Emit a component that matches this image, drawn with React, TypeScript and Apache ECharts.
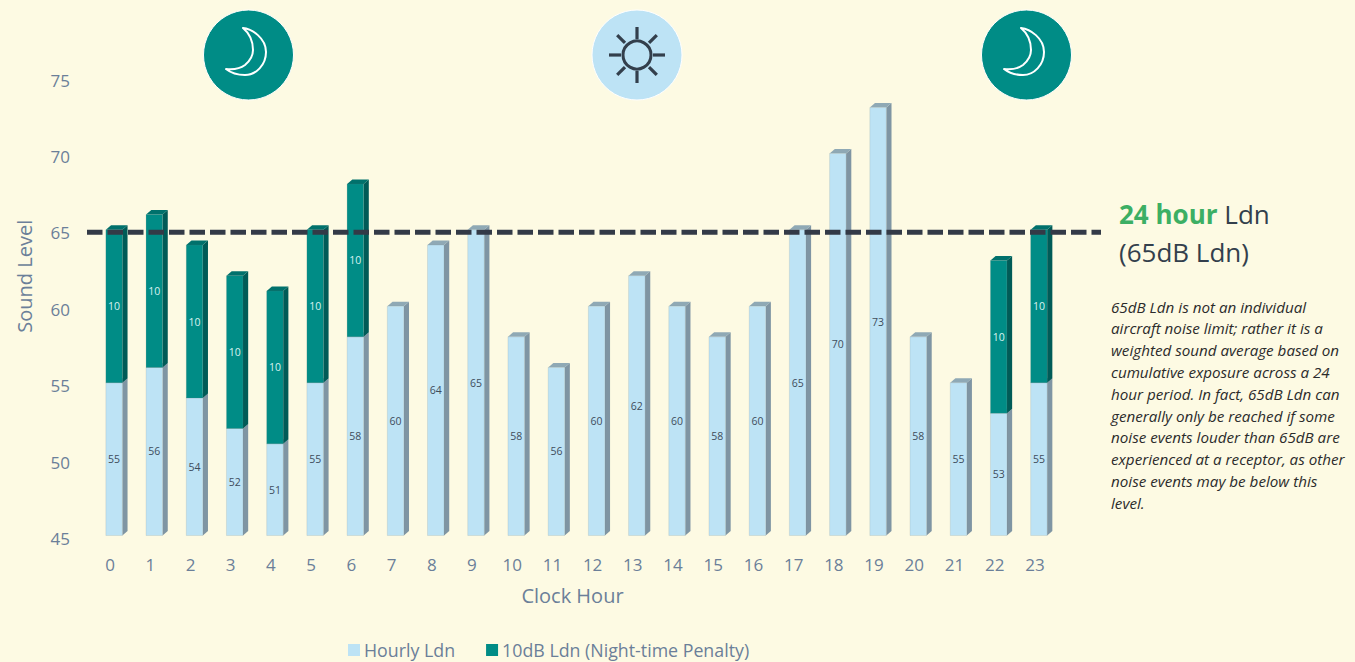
import React, { useEffect, useRef } from "react";
import * as echarts from "echarts";

const hours = ["0","1","2","3","4","5","6","7","8","9","10","11","12","13","14","15","16","17","18","19","20","21","22","23"];
const hourlyLdn = [55,56,54,52,51,55,58,60,64,65,58,56,60,62,60,58,60,65,70,73,58,55,53,55];
const penalty = [10,10,10,10,10,10,10,0,0,0,0,0,0,0,0,0,0,0,0,0,0,0,10,10];
const limitValue = [65];
const noteLines = [
  "65dB Ldn is not an individual",
  "aircraft noise limit; rather it is a",
  "weighted sound average based on",
  "cumulative exposure across a 24",
  "hour period. In fact, 65dB Ldn can",
  "generally only be reached if some",
  "noise events louder than 65dB are",
  "experienced at a receptor, as other",
  "noise events may be below this",
  "level.",
];

const FONT = '"Open Sans", sans-serif';
const BG = "#FDFAE3";

const MOON = "M243 28 C252 29 266 38 266 52 C266 65 256 75 245 75 C238 75 231 73 226 69 C235 70 241 68 245 65 C251 60 253 55 253 50 C253 41 249 33 243 28 Z";
echarts.graphic.registerShape("moon", echarts.graphic.extendPath(MOON, {}) as any);

function bar3d(front: string, side: string, top: string, labelColor: string) {
  return (params: any, api: any) => {
    const w = 16.5, dx = 5.2, dy = 4.5, shift = 4;
    const i = api.value(0), base = api.value(1), val = api.value(2);
    if (!val) return { type: "group", children: [] };
    const p0 = api.coord([i, base]);
    const p1 = api.coord([i, base + val]);
    const xl = p0[0] + shift - w / 2, xr = xl + w;
    const yb = p0[1], yt = p1[1];
    const edge = { stroke: "rgba(110,120,120,0.25)", lineWidth: 0.6 };
    return {
      type: "group",
      children: [
        { type: "polygon", shape: { points: [[xr, yb], [xr + dx, yb - dy], [xr + dx, yt - dy], [xr, yt]] }, style: { fill: side } },
        { type: "polygon", shape: { points: [[xl, yt], [xr, yt], [xr + dx, yt - dy], [xl + dx, yt - dy]] }, style: { fill: top } },
        { type: "rect", shape: { x: xl, y: yt, width: w, height: yb - yt }, style: { fill: front, ...edge } },
        { type: "text", style: { x: xl + w / 2, y: (yb + yt) / 2, text: String(val), fill: labelColor, fontSize: 10.5, fontFamily: FONT, align: "center", verticalAlign: "middle" } },
      ],
    };
  };
}

export default function App() {
  const ref = useRef<HTMLDivElement>(null);
  useEffect(() => {
    document.body.style.margin = "0";
    document.body.style.overflow = "hidden";
    const chart = echarts.init(ref.current!, undefined, { renderer: "svg" });
    const sunRays = [0, 45, 90, 135, 180, 225, 270, 315].map((a) => {
      const r = (a * Math.PI) / 180;
      const long = a % 90 === 0;
      const r1 = long ? 16 : 17, r2 = 28;
      return {
        type: "line",
        shape: { x1: 637 + r1 * Math.cos(r), y1: 55 + r1 * Math.sin(r), x2: 637 + r2 * Math.cos(r), y2: 55 + r2 * Math.sin(r) },
        style: { stroke: "#333F4C", lineWidth: 3.2 },
        silent: true,
      };
    });
    const moonBadge = (cx: number) => [
      { type: "circle", shape: { cx, cy: 55, r: 45 }, style: { fill: "#008C86", stroke: "#FFFFFF", lineWidth: 1 }, silent: true },
      { type: "moon", x: cx - 248.5, y: 0, style: { fill: "none", stroke: "#FFFFFF", lineWidth: 2, lineJoin: "round" }, silent: true },
    ];
    chart.setOption({
      animation: false,
      backgroundColor: BG,
      textStyle: { fontFamily: FONT },
      tooltip: { show: false },
      grid: { left: 90, width: 965, top: 77, height: 458.5 },
      legend: {
        left: 343, top: 636, itemWidth: 12, itemHeight: 12, itemGap: 31,
        icon: "rect",
        data: ["Hourly Ldn", "10dB Ldn (Night-time Penalty)"],
        textStyle: { color: "#6B7F99", fontSize: 17.8, fontFamily: FONT, padding: [0, 0, 0, -1] },
      },
      xAxis: {
        type: "category", data: hours,
        name: "Clock Hour", nameLocation: "middle", nameGap: 50,
        nameTextStyle: { color: "#6B7F99", fontSize: 20, fontFamily: FONT },
        axisLine: { show: false }, axisTick: { show: false },
        axisLabel: { color: "#6B7F99", fontSize: 17, fontFamily: FONT, margin: 20 },
      },
      yAxis: {
        type: "value", min: 45, max: 75, interval: 5,
        name: "Sound Level", nameLocation: "middle", nameGap: 56,
        nameTextStyle: { color: "#6B7F99", fontSize: 20, fontFamily: FONT, padding: [0, 0, 0, 60] },
        axisLine: { show: false }, axisTick: { show: false }, splitLine: { show: false },
        axisLabel: { color: "#6B7F99", fontSize: 17, fontFamily: FONT, margin: 20, verticalAlign: "top", lineHeight: 6 },
      },
      series: [
        {
          name: "Hourly Ldn", type: "custom", clip: false,
          itemStyle: { color: "#BDE3F5" },
          encode: { x: 0, y: 2 },
          data: hourlyLdn.map((v, i) => [i, 45, v - 45, v]),
          renderItem: (p: any, api: any) => {
            const group: any = bar3d("#BDE3F5", "#7F95A3", "#8FA9B5", "#3F4D5C")(p, api);
            const t = group.children[3];
            if (t) t.style.text = String(api.value(3));
            return group;
          },
        },
        {
          name: "10dB Ldn (Night-time Penalty)", type: "custom", clip: false,
          itemStyle: { color: "#008C86" },
          encode: { x: 0, y: 2 },
          data: penalty.map((v, i) => [i, hourlyLdn[i], v]),
          renderItem: bar3d("#008C86", "#005B57", "#00716C", "#D9F2F0"),
        },
        {
          name: "24 hour Ldn", type: "custom", clip: false, silent: true,
          data: limitValue.map((v) => [0, v]),
          encode: { x: 0, y: 1 },
          renderItem: (p: any, api: any) => {
            const y = api.coord([0, api.value(1)])[1] + 2.5;
            return {
              type: "line",
              shape: { x1: 87, y1: y, x2: 1101, y2: y },
              style: { stroke: "#333A47", lineWidth: 5, lineDash: [15.5, 5] },
            };
          },
        },
      ],
      graphic: [
        ...moonBadge(248.5),
        { type: "circle", shape: { cx: 637, cy: 55, r: 45 }, style: { fill: "#BDE3F5", stroke: "#FFFFFF", lineWidth: 1 }, silent: true },
        { type: "circle", shape: { cx: 637, cy: 55, r: 14 }, style: { fill: "none", stroke: "#333F4C", lineWidth: 3 }, silent: true },
        ...sunRays,
        ...moonBadge(1026.5),
        {
          type: "text", left: 1119, top: 201, silent: true,
          style: {
            text: "{g|24 hour}{d| Ldn}\n{d|(65dB Ldn)}",
            rich: {
              g: { fill: "#3CAF64", fontSize: 26, fontWeight: "bold", fontFamily: FONT, lineHeight: 38 },
              d: { fill: "#333F4C", fontSize: 26, fontFamily: FONT, lineHeight: 38 },
            },
          },
        },
        ...noteLines.map((line, i) => ({
          type: "text", left: 1111, top: 299 + i * 21.8, silent: true,
          style: { text: line, fill: "#2B2B2B", fontSize: 15.2, fontStyle: "italic", fontFamily: FONT },
        })),
      ],
    });
    return () => chart.dispose();
  }, []);
  return <div ref={ref} style={{ position: "absolute", left: 0, top: 0, width: 1355, height: 662 }} />;
}
